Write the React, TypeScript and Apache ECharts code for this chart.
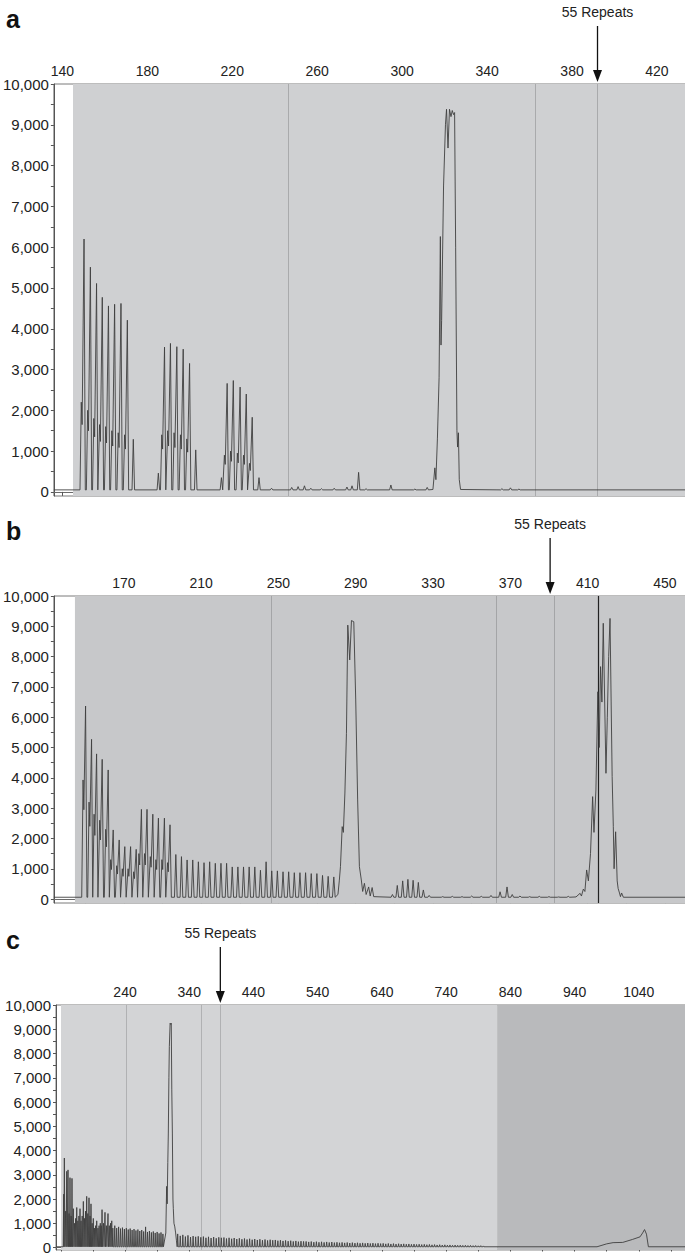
import React, { useEffect, useRef } from "react";
import * as echarts from "echarts";

type Peak = [number, number, number?];

// ---------- shared axis values ----------
const yLabels = [0, 1000, 2000, 3000, 4000, 5000, 6000, 7000, 8000, 9000, 10000];
const yTicks = [0, 500, 1000, 1500, 2000, 2500, 3000, 3500, 4000, 4500, 5000, 5500, 6000, 6500, 7000, 7500, 8000, 8500, 9000, 9500, 10000];
const repeatLabel = "55 Repeats";
const panelNames = ["a", "b", "c"];

// ---------- panel a ----------
const aRange = [136, 433.2];
const aXLabels = [140, 180, 220, 260, 300, 340, 380, 420];
const aXTicks = [140, 160, 180, 200, 220, 240, 260, 280, 300, 320, 340, 360, 380, 400, 420];
const aGrayStart = 145;
const aVLines = [246.5, 362.6, 392];
const aRepeat = 392;
const aPeaks: Peak[] = [
  [150.2, 6200, 2200], [153.2, 5510, 2000], [156.1, 5110, 1800], [158.8, 4770, 1650], [161.7, 4560, 1600],
  [164.6, 4600, 1500], [167.6, 4620, 1450], [170.6, 4210, 1400], [173.4, 1290],
  [185.2, 460], [188.1, 3550, 1400], [190.9, 3640, 1500], [193.9, 3560, 1450], [196.9, 3500, 1400],
  [199.9, 3150, 1300], [202.8, 1030],
  [214.9, 350], [217.6, 2660, 900], [220.5, 2730, 1000], [223.7, 2570, 950], [226.6, 2400, 900],
  [229.4, 1830, 700], [232.6, 350],
  [238.5, 90], [248, 110], [251, 130], [254, 150], [257, 90], [262, 80], [268, 90], [274, 120],
  [276.4, 150], [279.5, 480], [283, 80], [294.7, 170], [306, 70], [311.8, 110], [347, 80], [351, 100], [355, 70],
];
const aMainPeak = [
  [314.5, 60], [315.4, 590], [315.9, 300], [316.6, 1300], [317.4, 2800], [318.0, 6260], [318.3, 3600],
  [318.6, 4200], [319.5, 7500], [320.4, 9000], [320.9, 9380], [321.6, 8430], [322.3, 9380], [323.0, 9200],
  [323.6, 9350], [324.2, 9250], [324.7, 9300], [325.2, 6000], [325.8, 1500], [326.1, 1100], [326.5, 1450],
  [326.9, 300], [327.5, 60],
];

// ---------- panel b ----------
const bRange = [133.8, 460.4];
const bXLabels = [170, 210, 250, 290, 330, 370, 410, 450];
const bXTicks = [150, 170, 190, 210, 230, 250, 270, 290, 310, 330, 350, 370, 390, 410, 430, 450];
const bGrayStart = 144.7;
const bVLines = [246.3, 362.7, 392.6];
const bDarkLine = 415.5;
const bRepeat = 390.6;
const bPeaks: Peak[] = [
  [150.2, 6370, 3930], [153.3, 5270, 3200], [155.9, 4790, 2800], [158.8, 4610, 2600], [161.9, 4260, 2300],
  [164.5, 2280, 1300], [167.6, 1950, 1100], [170.5, 1730, 1000], [173.5, 1730, 1000], [176.4, 1640, 900],
  [179.1, 2960, 1500], [182.0, 2960, 1500], [185.0, 2800, 1400], [187.9, 2670, 1300], [191.0, 2670, 1300],
  [193.9, 2450, 1200],
  [309, 150], [311.5, 450], [314.3, 600], [317, 650], [319.7, 620], [322.4, 550], [325, 300], [328, 120],
  [335, 80], [340, 90], [345, 80], [350, 100], [355, 90], [360, 120], [364.7, 240], [368.3, 400], [371, 150],
  [375, 100], [380, 80], [385, 90], [390, 80], [395, 70], [400, 90],
];
const bRepeatStart = 196.9;
const bRepeatStep = 2.92;
const bRepeatHeights = [
  1470, 1400, 1290, 1290, 1230, 1200, 1230, 1180, 1180, 1180, 1060, 1060, 1060, 1060, 1060,
  950, 1230, 930, 930, 900, 900, 870, 870, 870, 840, 840, 780, 750, 730,
];
const bMainPeak = [
  [280.8, 150], [281.5, 600], [282.1, 1070], [283.0, 2390], [283.6, 2200], [284.4, 3500], [285.2, 5470],
  [285.9, 9040], [286.9, 7890], [287.8, 9190], [289.0, 9150], [290.0, 6570], [291.0, 3270], [291.9, 1070],
  [292.9, 630], [293.6, 250], [294.5, 520], [295.4, 150], [296.7, 400], [297.5, 100], [298.5, 380], [299.3, 80],
];
const bSecondPeak = [
  [404, 70], [406.1, 190], [406.8, 100], [407.8, 330], [408.6, 250], [409.5, 960], [410.4, 600], [411.5, 1500],
  [412.6, 3380], [413.3, 2200], [414.3, 3600], [415.3, 6840], [416.0, 5000], [416.7, 7670], [417.4, 6500],
  [418.1, 9100], [419.5, 4150], [420.2, 6000], [420.9, 8000], [421.6, 9260], [422.7, 4040], [423.3, 2400],
  [423.7, 1000], [424.5, 2220], [425.3, 600], [425.8, 350], [426.5, 200], [427.0, 80], [427.6, 200], [428.5, 60],
];

// ---------- panel c ----------
const cRange = [132.5, 1112];
const cXLabels = [240, 340, 440, 540, 640, 740, 840, 940, 1040];
const cXTicks = [140, 190, 240, 290, 340, 390, 440, 490, 540, 590, 640, 690, 740, 790, 840, 890, 940, 990, 1040, 1090];
const cGrayStart = 140.3;
const cDarkStart = 819.4;
const cVLines = [242.6, 358.8, 388.4];
const cRepeat = 388.4;
const cPeaks: Peak[] = [
  [144.5, 2200], [145.5, 3690], [147.5, 1500], [149.2, 3140], [151.2, 3200], [152.8, 1400], [154.3, 2880],
  [156, 1300], [157.4, 2850], [159.5, 1600], [161.5, 1000], [163, 1200], [164.8, 1650], [166.5, 1100],
  [168.2, 1300], [169.9, 1600], [171.5, 1100], [173.3, 1300], [175.1, 1900], [176.8, 1200], [178.5, 1500],
  [180.3, 2110], [182, 1400], [183.9, 2050], [185.5, 1300], [187, 1800], [188.8, 1000], [190.6, 1200],
  [192.3, 800], [194.1, 900], [195.9, 1100], [197.8, 800], [199.6, 900], [201.5, 1000], [202.9, 900],
  [204.2, 1560], [206.5, 1000], [208.8, 1450], [211, 900], [213.5, 1400], [215.5, 900], [217.4, 1000],
  [219.3, 1100], [221, 800],
];
const cEarlyStart = 224;
const cEarlyStep = 3;
const cEarlyHeights = [
  900, 800, 850, 780, 820, 760, 800, 740, 780, 720, 760, 700, 740, 680, 720, 660, 850, 640, 680, 620,
  660, 600, 640, 580, 620, 560,
];
const cMainPeak = [
  [303.5, 600], [304.8, 2520], [305.6, 1800], [306.6, 3500], [307.4, 4720], [308.3, 7000], [309.0, 8280],
  [310.2, 9250], [311.2, 9200], [312.0, 9250], [312.8, 6500], [313.7, 4720], [314.6, 2000], [315.2, 1600],
  [316.2, 1000], [317.5, 850], [318.8, 600], [320, 300],
];
const cLateStart = 322;
const cLateStep = 4;
const cLateHeights = [
  560, 480, 520, 450, 500, 430, 470, 440, 460, 420,
  450, 400, 440, 390, 430, 380, 420, 400, 410, 370,
  400, 360, 390, 350, 380, 340, 370, 330, 360, 320,
  350, 310, 340, 300, 330, 290, 320, 300, 310, 280,
  300, 270, 290, 260, 280, 250, 270, 240, 260, 250,
  250, 230, 245, 220, 240, 215, 235, 210, 230, 205,
  225, 200, 215, 195, 210, 190, 205, 185, 200, 180,
  195, 175, 190, 170, 185, 165, 180, 160, 175, 160,
  170, 150, 165, 145, 160, 140, 155, 140, 150, 135,
  145, 130, 140, 125, 135, 120, 130, 115, 125, 110,
  120, 105, 115, 100, 110, 95, 105, 90, 100, 90,
  95, 85, 90, 80, 85, 75, 80, 70, 75, 65,
];
const cTail = [
  [975, 30], [990, 150], [1000, 200], [1015, 210], [1030, 330], [1042, 440], [1046, 600], [1049, 740],
  [1052, 550], [1055, 30],
];

// ---------- helpers ----------
function repeatPeaks(start: number, step: number, heights: number[]): Peak[] {
  return heights.map((h, i) => [start + i * step, h] as Peak);
}

function buildTrace(range: number[], base: number, hw: number, peaks: Peak[], profiles: number[][][]) {
  const pts: number[][] = [[range[0], base]];
  for (const [p, h, s] of peaks) {
    if (s) {
      pts.push([p - 1.3 - hw, base], [p - 1.3, s], [p - 0.9, s * 0.75], [p, h], [p + hw, base]);
    } else {
      pts.push([p - hw, base], [p, h], [p + hw, base]);
    }
  }
  for (const prof of profiles) for (const q of prof) pts.push(q);
  pts.push([range[1], base]);
  pts.sort((u, v) => u[0] - v[0]);
  return pts;
}

const FONT = "'Liberation Sans', Arial, Helvetica, sans-serif";

const grids = [
  { left: 53, top: 84, width: 632, height: 412 },
  { left: 53, top: 596, width: 632, height: 307 },
  { left: 56, top: 1005, width: 629, height: 246 },
];
const yMins = [-100, -130, -100];

export default function App() {
  const ref = useRef<HTMLDivElement>(null);

  useEffect(() => {
    if (!ref.current) return;
    const chart = echarts.init(ref.current, undefined, { renderer: "svg" });

    const traces = [
      buildTrace(aRange, 50, 0.6, aPeaks, [aMainPeak]),
      buildTrace(bRange, 60, 0.7, [...bPeaks, ...repeatPeaks(bRepeatStart, bRepeatStep, bRepeatHeights)], [bMainPeak, bSecondPeak]),
      buildTrace(cRange, 30, 0.8, [...cPeaks, ...repeatPeaks(cEarlyStart, cEarlyStep, cEarlyHeights), ...repeatPeaks(cLateStart, cLateStep, cLateHeights)], [cMainPeak, cTail]),
    ];
    const ranges = [aRange, bRange, cRange];
    const xLabels = [aXLabels, bXLabels, cXLabels];
    const xTicks = [aXTicks, bXTicks, cXTicks];
    const areas = [
      [[{ xAxis: aGrayStart, itemStyle: { color: "#cfd0d2" } }, { xAxis: aRange[1] }]],
      [[{ xAxis: bGrayStart, itemStyle: { color: "#c7c8ca" } }, { xAxis: bRange[1] }]],
      [
        [{ xAxis: cGrayStart, itemStyle: { color: "#d3d4d6" } }, { xAxis: cDarkStart }],
        [{ xAxis: cDarkStart, itemStyle: { color: "#b9babc" } }, { xAxis: cRange[1] }],
      ],
    ];
    const vlines = [
      aVLines.map((v) => ({ xAxis: v, lineStyle: { color: "#a9aaac", width: 1, type: "solid" } })),
      [
        ...bVLines.map((v) => ({ xAxis: v, lineStyle: { color: "#a4a5a7", width: 1, type: "solid" } })),
        { xAxis: bDarkLine, lineStyle: { color: "#222", width: 1.2, type: "solid" } },
      ],
      cVLines.map((v) => ({ xAxis: v, lineStyle: { color: "#b0b1b3", width: 1, type: "solid" } })),
    ];

    chart.setOption({
      animation: false,
      backgroundColor: "#fff",
      grid: grids.map((g) => ({
        ...g,
        show: true,
        backgroundColor: "#fff",
        borderColor: "#7a7a7a",
        borderWidth: 1,
        containLabel: false,
      })),
      xAxis: [0, 1, 2].map((i) => ({
        gridIndex: i,
        type: "value",
        position: "top",
        min: ranges[i][0],
        max: ranges[i][1],
        axisLine: { show: true, lineStyle: { color: "#6a6a6a", width: 1 } },
        axisTick: { show: true, inside: true, length: 4, customValues: xTicks[i], lineStyle: { color: "#555" } },
        axisLabel: {
          customValues: xLabels[i],
          fontSize: 14,
          color: "#222",
          fontFamily: FONT,
          margin: 6,
          formatter: (v: number) => String(v),
        },
        splitLine: { show: false },
      })),
      yAxis: [0, 1, 2].map((i) => ({
        gridIndex: i,
        type: "value",
        min: yMins[i],
        max: 10000,
        axisLine: { show: true, lineStyle: { color: "#555", width: 1 } },
        axisTick: { show: true, length: 3, customValues: yTicks, lineStyle: { color: "#555" } },
        axisLabel: {
          customValues: yLabels,
          fontSize: 15,
          color: "#222",
          fontFamily: FONT,
          margin: 5,
          formatter: (v: number) => v.toLocaleString("en-US"),
        },
        splitLine: { show: false },
      })),
      series: [0, 1, 2].map((i) => ({
        type: "line",
        xAxisIndex: i,
        yAxisIndex: i,
        data: traces[i],
        showSymbol: false,
        symbol: "none",
        lineStyle: { color: "#3f3f3f", width: 0.9 },
        z: 5,
        markArea: { silent: true, z: 1, data: areas[i] },
        markLine: {
          silent: true,
          symbol: ["none", "none"],
          label: { show: false },
          lineStyle: { type: "solid" },
          data: vlines[i],
        },
      })),
    });

    const repeats = [aRepeat, bRepeat, cRepeat];
    const graphic: any[] = [];
    grids.forEach((g, i) => {
      const px = chart.convertToPixel({ xAxisIndex: i }, repeats[i]) as number;
      const top = g.top;
      graphic.push({
        type: "text",
        left: 6,
        top: top - 78,
        style: { text: panelNames[i], font: `bold 25px ${FONT}`, fill: "#111" },
      });
      graphic.push({
        type: "text",
        x: px,
        y: top - 72,
        style: { text: repeatLabel, font: `14px ${FONT}`, fill: "#222", align: "center", verticalAlign: "middle" },
      });
      graphic.push({
        type: "line",
        shape: { x1: px, y1: top - 58, x2: px, y2: top - 10 },
        style: { stroke: "#111", lineWidth: 1.3 },
      });
      graphic.push({
        type: "polygon",
        shape: { points: [[px - 4.5, top - 14], [px + 4.5, top - 14], [px, top - 2]] },
        style: { fill: "#111" },
      });
    });
    chart.setOption({ graphic });

    return () => chart.dispose();
  }, []);

  return (
    <div
      ref={ref}
      style={{ position: "fixed", left: 0, top: 0, width: 685, height: 1255, background: "#fff" }}
    />
  );
}
